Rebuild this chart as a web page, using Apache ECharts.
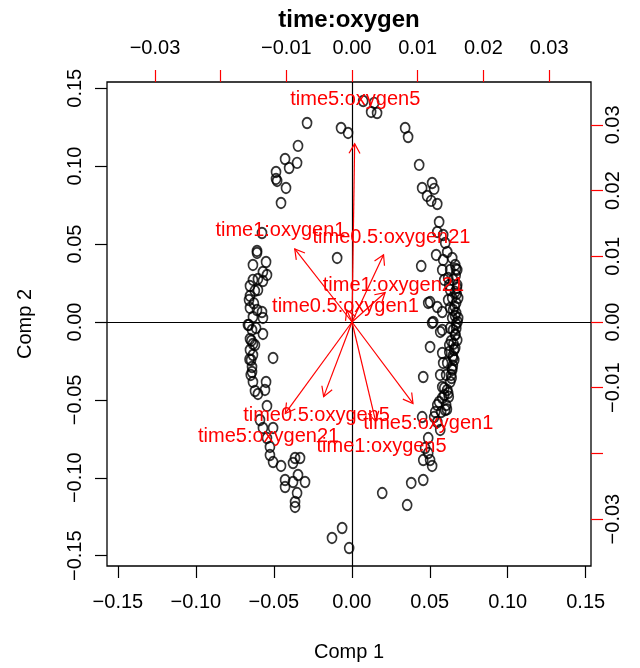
<!DOCTYPE html>
<html>
<head>
<meta charset="utf-8">
<script src="https://cdn.jsdelivr.net/npm/echarts@6/dist/echarts.min.js"></script>
<style>
  html, body { margin: 0; padding: 0; background: #fff; }
  #chart { width: 640px; height: 668px; }
</style>
</head>
<body>
<div id="chart"></div>
<script>
// observation scores (Comp 1, Comp 2)
var comp1 = [
    0.0073, 0.0143, 0.0124, 0.0162, -0.0069, -0.0024, 0.0342, 0.0361, 0.0432, -0.0287, -0.0345, -0.0428, -0.0351, -0.0402, -0.0486, -0.0479, -0.0486, -0.0422, -0.0454,
    0.0451, 0.0515, 0.0528, 0.0483, 0.0509, 0.0548, 0.0560, 0.0548, 0.0586, 0.0599, 0.0541, 0.0612, 0.0586, 0.0445, 0.0580, 0.0631, 0.0618, 0.0650, 0.0631, 0.0502, 0.0548, 0.0580, 0.0522, 0.0580, 0.0490,
    0.0644, 0.0663, 0.0625, 0.0663, 0.0644, 0.0669, 0.0631, 0.0669, 0.0644, 0.0669, 0.0631, 0.0663, 0.0637, 0.0663, 0.0625, 0.0650, 0.0612, 0.0644, 0.0605, 0.0631, 0.0593, 0.0618, 0.0580,
    0.0515, 0.0567, 0.0502, 0.0580, 0.0586, 0.0458, 0.0567, 0.0580, 0.0548, 0.0535, 0.0599, 0.0451, 0.0548, 0.0567, 0.0490, 0.0470, 0.0490, 0.0502, 0.0458, 0.0515, 0.0458, 0.0381, 0.0355, 0.0195, 0.0528, 0.0593, 0.0560,
    -0.0062, -0.0017, -0.0127,
    -0.0576, -0.0608, -0.0608, -0.0550, -0.0634, -0.0570, -0.0544, -0.0634, -0.0602, -0.0570,
    -0.0602, -0.0653, -0.0653, -0.0608, -0.0576, -0.0634, -0.0570, -0.0666, -0.0640, -0.0614,
    -0.0570, -0.0653, -0.0634, -0.0653, -0.0634, -0.0505, -0.0640, -0.0640, -0.0634, -0.0550,
    -0.0621, -0.0602, -0.0544, -0.0589, -0.0570, -0.0505, -0.0544, -0.0525, -0.0525, -0.0505,
    -0.0454, -0.0364, -0.0332, -0.0377, -0.0345, -0.0428, -0.0377, -0.0300, -0.0428, -0.0351,
    -0.0364, -0.0364, -0.0094, -0.0653, -0.0659, -0.0621, -0.0646, -0.0557,
    0.0676, 0.0676, 0.0682, 0.0682, 0.0676, 0.0657, 0.0637, 0.0612, 0.0650, 0.0650, 0.0625, 0.0605, 0.0573, 0.0593, 0.0618,
    0.0666, 0.0672, 0.0660, 0.0678, 0.0664, 0.0656, 0.0648, 0.0640, 0.0668, 0.0674, 0.0662, 0.0670, 0.0652, 0.0646, 0.0642, 0.0622, 0.0610,
    -0.0628, -0.0660, -0.0644, -0.0656, -0.0622, -0.0648
];
var comp2 = [
    0.1418, 0.1406, 0.1348, 0.1341, 0.1245, 0.1213, 0.1245, 0.1187, 0.1008, 0.1277, 0.1130, 0.1046, 0.1021, 0.0988, 0.0963, 0.0905, 0.0918, 0.0860, 0.0764,
    0.0860, 0.0892, 0.0854, 0.0809, 0.0777, 0.0757, 0.0642, 0.0578, 0.0558, 0.0507, 0.0430, 0.0449, 0.0398, 0.0359, 0.0334, 0.0334, 0.0282, 0.0270, 0.0205, 0.0128, 0.0096, 0.0064, 0.0000, -0.0051, 0.0122,
    0.0411, 0.0366, 0.0237, 0.0193, 0.0154, 0.0122, 0.0090, 0.0058, 0.0026, -0.0013, -0.0039, -0.0083, -0.0122, -0.0167, -0.0193, -0.0231, -0.0263, -0.0308, -0.0340, -0.0385, -0.0424, -0.0456, -0.0488,
    -0.0006, -0.0064, -0.0160, -0.0199, -0.0263, -0.0353, -0.0340, -0.0417, -0.0533, -0.0578, -0.0565, -0.0610, -0.0642, -0.0693, -0.0745, -0.0809, -0.0841, -0.0886, -0.0886, -0.0924, -0.1014, -0.1033, -0.1175, -0.1098, -0.0610, -0.0469, -0.0513,
    -0.1322, -0.1451, -0.1386,
    0.0571, 0.0456, 0.0443, 0.0385, 0.0366, 0.0321, 0.0302, 0.0270, 0.0276, 0.0263,
    0.0205, 0.0167, 0.0090, 0.0077, 0.0064, 0.0032, 0.0026, -0.0019, -0.0051, -0.0039,
    -0.0077, -0.0109, -0.0141, -0.0180, -0.0212, -0.0231, -0.0289, -0.0321, -0.0385, -0.0385,
    -0.0443, -0.0462, -0.0539, -0.0629, -0.0680, -0.0680, -0.0745, -0.0802, -0.0854, -0.0899,
    -0.0924, -0.0873, -0.0873, -0.0905, -0.0982, -0.1014, -0.1027, -0.1027, -0.1059, -0.1098,
    -0.1155, -0.1187, 0.0411, 0.0231, 0.0141, -0.0148, -0.0244, -0.0436,
    0.0334, 0.0237, 0.0154, 0.0026, -0.0116, -0.0244, -0.0340, -0.0436, 0.0077, -0.0051, -0.0148, -0.0533, -0.0578, 0.0270, 0.0141,
    0.0300, 0.0180, 0.0100, 0.0000, -0.0080, -0.0180, -0.0280, -0.0360, 0.0340, 0.0220, 0.0040, -0.0040, -0.0140, -0.0220, -0.0300, -0.0480, -0.0560,
    0.0120, -0.0020, -0.0120, -0.0240, 0.0200, -0.0340
];

// variable loadings (red arrows, top/right axes)
var loadNames = ["time5:oxygen5", "time1:oxygen1", "time0.5:oxygen21", "time1:oxygen21", "time0.5:oxygen1",
    "time0.5:oxygen5", "time5:oxygen21", "time1:oxygen5", "time5:oxygen1"];
var loadX = [0.0005, -0.0109, 0.0060, 0.0063, -0.0010, -0.0054, -0.0127, 0.0045, 0.0116];
var loadY = [0.0339, 0.0139, 0.0128, 0.0056, 0.0023, -0.0142, -0.0174, -0.0189, -0.0155];

// tick values
var scoreTicks = [-0.15, -0.10, -0.05, 0.00, 0.05, 0.10, 0.15];
var loadTicks = [-0.03, -0.02, -0.01, 0.00, 0.01, 0.02, 0.03];
var loadTickLabels = [-0.03, -0.01, 0.00, 0.01, 0.02, 0.03];

function fmt(v) {
    var s = Math.abs(v).toFixed(2);
    return (v < -1e-9 ? "\u2212" : "") + s;
}

var chart = echarts.init(document.getElementById("chart"));

var scatterData = comp1.map(function(x, i) { return [x, comp2[i]]; });
var arrowData = loadX.map(function(x, i) { return { value: [x, loadY[i]], name: loadNames[i] }; });

var option = {
    animation: false,
    textStyle: { fontFamily: "Liberation Sans", color: "#000" },
    grid: { left: 107, right: 49, top: 82, bottom: 102, show: true, borderColor: "#000", borderWidth: 1.3, backgroundColor: "transparent" },
    xAxis: [{
        type: "value", position: "bottom", min: -0.157, max: 0.1534,
        name: "Comp 1", nameLocation: "middle", nameGap: 76,
        nameTextStyle: { fontSize: 20, color: "#000" },
        axisLine: { show: false, onZero: false },
        splitLine: { show: false },
        axisTick: { show: true, length: 12, customValues: scoreTicks, lineStyle: { color: "#000", width: 1.2 } },
        axisLabel: { customValues: scoreTicks, formatter: fmt, fontSize: 20, color: "#000", margin: 26 }
    }, {
        type: "value", position: "top", min: -0.0373, max: 0.03638,
        name: "time:oxygen", nameLocation: "middle", nameGap: 50,
        nameTextStyle: { fontSize: 24, fontWeight: "bold", color: "#000" },
        axisLine: { show: false, onZero: false },
        splitLine: { show: false },
        axisTick: { show: true, length: 12, customValues: loadTicks, lineStyle: { color: "#ff0000", width: 1.2 } },
        axisLabel: { customValues: loadTickLabels, formatter: fmt, fontSize: 20, color: "#000", margin: 24 }
    }],
    yAxis: [{
        type: "value", position: "left", min: -0.1566, max: 0.154,
        name: "Comp 2", nameLocation: "middle", nameGap: 72,
        nameTextStyle: { fontSize: 20, color: "#000" },
        axisLine: { show: false, onZero: false },
        splitLine: { show: false },
        axisTick: { show: true, length: 12, customValues: scoreTicks, lineStyle: { color: "#000", width: 1.2 } },
        axisLabel: { customValues: scoreTicks, formatter: fmt, fontSize: 20, color: "#000", margin: 22, rotate: 90 }
    }, {
        type: "value", position: "right", min: -0.03714, max: 0.03653,
        axisLine: { show: false, onZero: false },
        splitLine: { show: false },
        axisTick: { show: true, length: 12, customValues: loadTicks, lineStyle: { color: "#ff0000", width: 1.2 } },
        axisLabel: { customValues: loadTickLabels, formatter: fmt, fontSize: 20, color: "#000", margin: 12, rotate: 90 }
    }],
    series: [{
        type: "scatter",
        xAxisIndex: 0, yAxisIndex: 0,
        data: scatterData,
        symbol: "path://M5,0 A5,6 0 1,1 5,12 A5,6 0 1,1 5,0 Z",
        symbolSize: [9, 10.5],
        itemStyle: { color: "rgba(0,0,0,0)", borderColor: "#000", borderWidth: 1.8 },
        emphasis: { disabled: true },
        silent: true,
        markLine: {
            silent: true,
            symbol: ["none", "none"],
            label: { show: false },
            lineStyle: { color: "#000", type: "solid", width: 1.2 },
            data: [{ xAxis: 0 }, { yAxis: 0 }]
        },
        z: 2
    }, {
        type: "custom",
        xAxisIndex: 1, yAxisIndex: 1,
        data: arrowData,
        encode: { x: 0, y: 1 },
        silent: true,
        z: 5,
        renderItem: function(params, api) {
            var vx = api.value(0), vy = api.value(1);
            var o = api.coord([0, 0]);
            var t = api.coord([vx * 0.8, vy * 0.8]);
            var l = api.coord([vx, vy]);
            var ang = Math.atan2(t[1] - o[1], t[0] - o[0]);
            var len = 11, spread = Math.PI / 6;
            var a1 = [t[0] - len * Math.cos(ang - spread), t[1] - len * Math.sin(ang - spread)];
            var a2 = [t[0] - len * Math.cos(ang + spread), t[1] - len * Math.sin(ang + spread)];
            return {
                type: "group",
                children: [{
                    type: "line",
                    shape: { x1: o[0], y1: o[1], x2: t[0], y2: t[1] },
                    style: { stroke: "#ff0000", lineWidth: 1.2 }
                }, {
                    type: "polyline",
                    shape: { points: [a1, t, a2] },
                    style: { stroke: "#ff0000", fill: null, lineWidth: 1.2 }
                }, {
                    type: "text",
                    x: l[0], y: l[1],
                    style: {
                        text: loadNames[params.dataIndex],
                        fill: "#ff0000",
                        font: "20px 'Liberation Sans'",
                        align: "center",
                        verticalAlign: "middle"
                    }
                }]
            };
        }
    }]
};

chart.setOption(option);
</script>
</body>
</html>
